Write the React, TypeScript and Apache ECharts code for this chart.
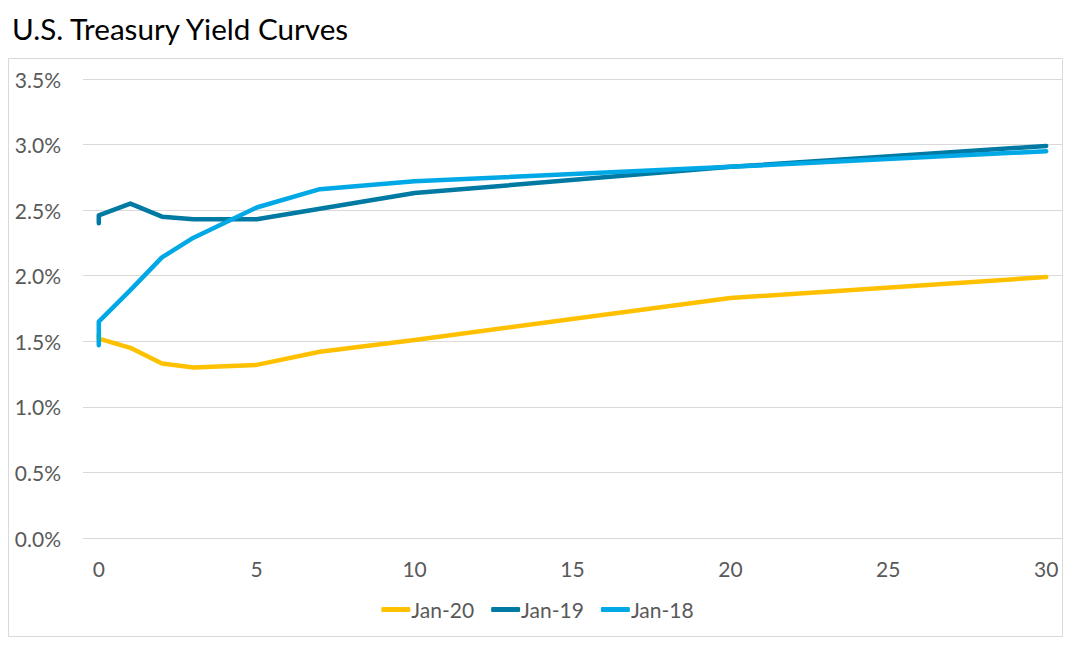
import React, { useEffect, useRef } from "react";
import * as echarts from "echarts";

const maturities = [0, 0, 0, 1, 2, 3, 5, 7, 10, 20, 30];
const jan20 = [1.55, 1.54, 1.52, 1.45, 1.33, 1.3, 1.32, 1.42, 1.51, 1.83, 1.99];
const jan19 = [2.4, 2.41, 2.46, 2.55, 2.45, 2.43, 2.43, 2.51, 2.63, 2.83, 2.99];
const jan18 = [1.47, 1.48, 1.65, 1.89, 2.14, 2.29, 2.52, 2.66, 2.72, 2.83, 2.95];
const seriesNames = ["Jan-20", "Jan-19", "Jan-18"];
const seriesColors = ["#FFC000", "#0079A3", "#00A8E6"];
const xTicks = [0, 5, 10, 15, 20, 25, 30];

const FONT = "Lato";

export default function App() {
  const ref = useRef<HTMLDivElement>(null);
  useEffect(() => {
    document.body.style.margin = "0";
    const chart = echarts.init(ref.current!, undefined, { renderer: "svg" });
    const all = [jan20, jan19, jan18];
    chart.setOption({
      animation: false,
      backgroundColor: "#ffffff",
      title: {
        text: "U.S. Treasury Yield Curves",
        left: 7,
        top: 8,
        textStyle: { fontFamily: FONT, fontSize: 29.6, fontWeight: "normal", color: "#000000" },
      },
      graphic: [
        {
          type: "rect",
          shape: { x: 8.5, y: 58.5, width: 1054, height: 578 },
          style: { fill: "none", stroke: "#D9D9D9", lineWidth: 1 },
          silent: true,
        },
      ],
      grid: { left: 83, right: 13, top: 79, bottom: 109 },
      legend: {
        data: seriesNames,
        left: "center",
        top: 594,
        icon: "roundRect",
        itemWidth: 29,
        itemHeight: 5,
        itemGap: 17,
        textStyle: { fontFamily: FONT, fontSize: 21, color: "#595959", padding: [0, 0, 0, -4] },
      },
      xAxis: {
        type: "value",
        min: -0.5,
        max: 30.5,
        axisLine: { show: false },
        axisTick: { show: false },
        splitLine: { show: false },
        axisLabel: {
          customValues: xTicks,
          margin: 20,
          fontFamily: FONT,
          fontSize: 21,
          color: "#595959",
        },
      },
      yAxis: {
        type: "value",
        min: 0,
        max: 3.5,
        interval: 0.5,
        axisLine: { show: false },
        axisTick: { show: false },
        splitLine: { lineStyle: { color: "#D9D9D9", width: 1 } },
        axisLabel: {
          margin: 22,
          fontFamily: FONT,
          fontSize: 21,
          color: "#595959",
          formatter: (v: number) => v.toFixed(1) + "%",
        },
      },
      series: seriesNames.map((name, i) => ({
        name,
        type: "line",
        showSymbol: false,
        symbol: "none",
        color: seriesColors[i],
        lineStyle: { width: 4.5, color: seriesColors[i], cap: "round", join: "round" },
        data: maturities.map((m, j) => [m, all[i][j]]),
      })),
    });
    return () => chart.dispose();
  }, []);
  return <div ref={ref} style={{ width: 1075, height: 647 }} />;
}
